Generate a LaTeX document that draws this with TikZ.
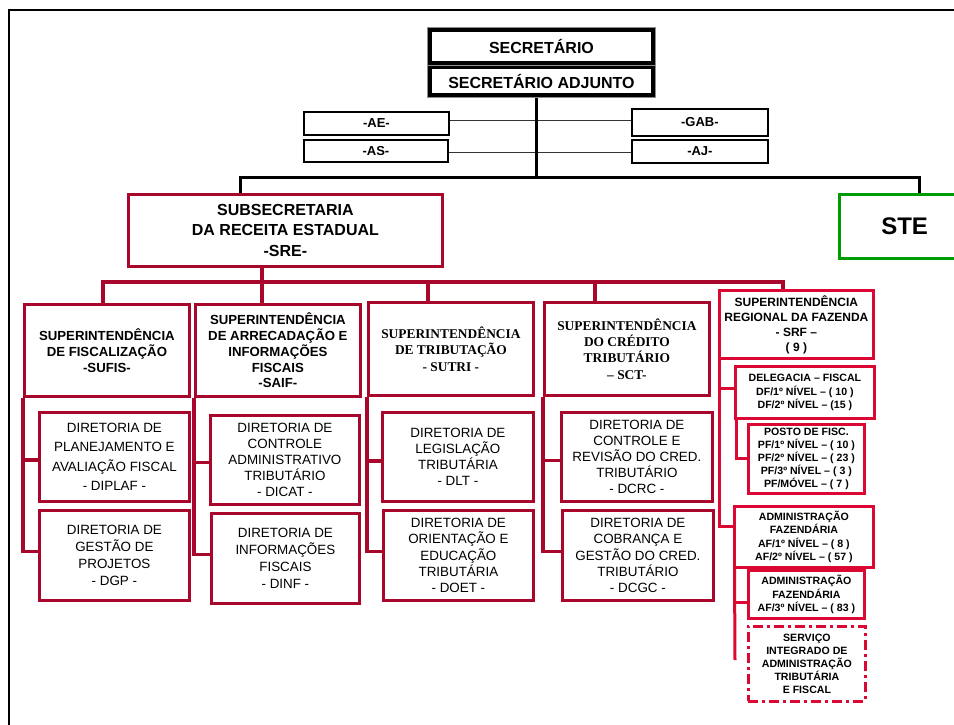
\documentclass[tikz,border=0pt]{standalone}
\usepackage{fontspec}
\setmainfont{Liberation Sans}
\newfontfamily\serifb{Liberation Serif}
\definecolor{crimson}{RGB}{168,6,42}
\definecolor{srfred}{RGB}{218,8,50}
\definecolor{stegreen}{RGB}{0,155,0}
\tikzset{
  base/.style={anchor=north west, inner sep=0pt, align=center},
  blk/.style={base, draw=black, line width=1.8pt, font=\bfseries\fontsize{13}{15}\selectfont},
  hd/.style={base, draw=crimson, line width=2.8pt, font=\bfseries\fontsize{13.2}{15.8}\selectfont},
  hdserif/.style={base, draw=crimson, line width=2.8pt, font=\serifb\bfseries\fontsize{13.4}{16.4}\selectfont},
  dirbox/.style={base, draw=crimson, line width=2.8pt, font=\fontsize{13.4}{16.2}\selectfont},
  srfbox/.style={base, draw=srfred, line width=2.8pt, font=\bfseries\fontsize{10.6}{13.2}\selectfont},
  redline/.style={draw=crimson, line width=3.2pt},
  srfline/.style={draw=srfred, line width=3pt},
  blkline/.style={draw=black, line width=3pt},
  thinline/.style={draw=black!80, line width=1pt},
}
\begin{document}
\begin{tikzpicture}[x=1pt,y=-1pt]
\useasboundingbox (0,0) rectangle (954,724);
\clip (0,0) rectangle (954,724);
\fill[white] (0,0) rectangle (954,724);
% outer frame
\draw[line width=2.4pt] (9,730) -- (9,10) -- (960,10);

% top
\node[base, draw=black!45, line width=0.9pt, minimum width=228pt, minimum height=38pt, font=\bfseries\fontsize{16}{19}\selectfont] (sec) at (427,27) {SECRETÁRIO};
\draw[line width=3.4pt] ([shift={(3,3)}]sec.north west) rectangle ([shift={(-3,-3)}]sec.south east);
\node[base, draw=black!45, line width=0.9pt, minimum width=228pt, minimum height=32pt, font=\bfseries\fontsize{16}{19}\selectfont] (adj) at (427,65) {SECRETÁRIO ADJUNTO};
\draw[line width=3.4pt] ([shift={(3,2.5)}]adj.north west) rectangle ([shift={(-3,-3)}]adj.south east);

\node[blk, minimum width=145pt, minimum height=23pt] (ae) at (303,111) {-AE-};
\node[blk, minimum width=144pt, minimum height=22pt] (as) at (303,139) {-AS-};
\node[blk, minimum width=136pt, minimum height=27pt] (gab) at (631,108) {-GAB-};
\node[blk, minimum width=136pt, minimum height=23pt] (aj) at (631,139) {-AJ-};

\draw[thinline] ([yshift=3]ae.east) -- ([yshift=3]ae.east -| gab.west);
\draw[thinline] ([yshift=-2]as.east) -- ([yshift=-2]as.east -| aj.west);

\coordinate (bL) at (240,177);
\coordinate (bC) at (536,177);
\coordinate (bR) at (919,177);
\draw[blkline] (bC |- adj.south) -- (bC);

% second level
\node[base, draw=crimson, line width=2.8pt, minimum width=314pt, minimum height=72pt, font=\bfseries\fontsize{16}{20.5}\selectfont] (sre) at (127,193) {SUBSECRETARIA\\DA RECEITA ESTADUAL\\-SRE-};
\node[base, draw=stegreen, line width=3.2pt, minimum width=140pt, minimum height=64pt, font=\bfseries\fontsize{24}{28}\selectfont] (ste) at (838,193) {\hspace*{-10pt}STE};
\draw[blkline] (bL |- sre.north) -- (bL) -- (bR) -- (bR |- ste.north);

% superintendencias
\node[hd, minimum width=165pt, minimum height=92pt] (sufis) at (23,303) {SUPERINTENDÊNCIA\\DE FISCALIZAÇÃO\\-SUFIS-};
\node[hd, minimum width=165pt, minimum height=92pt] (saif) at (194,303) {SUPERINTENDÊNCIA\\DE ARRECADAÇÃO E\\INFORMAÇÕES\\FISCAIS\\-SAIF-};
\node[hdserif, minimum width=165pt, minimum height=93pt] (sutri) at (367,301) {SUPERINTENDÊNCIA\\DE TRIBUTAÇÃO\\- SUTRI -};
\node[hdserif, minimum width=165pt, minimum height=93pt] (sct) at (543,301) {SUPERINTENDÊNCIA\\DO CRÉDITO\\TRIBUTÁRIO\\– SCT-};
\node[base, draw=srfred, line width=2.8pt, minimum width=154pt, minimum height=68pt, font=\bfseries\fontsize{12}{15}\selectfont] (srf) at (718,289) {SUPERINTENDÊNCIA\\REGIONAL DA FAZENDA\\- SRF –\\( 9 )};

\coordinate (rL) at (103,282);
\coordinate (rA) at (262,282);
\coordinate (rS) at (428,282);
\coordinate (rC) at (595,282);
\coordinate (rR) at (783,282);
\draw[redline] (rA |- sre.south) -- (rA |- saif.north);
\draw[redline] (rL |- sufis.north) -- (rL) -- (rR) -- (rR |- srf.north);
\draw[redline] (rS) -- (rS |- sutri.north);
\draw[redline] (rC) -- (rC |- sct.north);

% diretorias
\node[dirbox, minimum width=150pt, minimum height=89pt, font=\fontsize{13.4}{19.5}\selectfont] (diplaf) at (38,411) {DIRETORIA DE\\PLANEJAMENTO E\\AVALIAÇÃO FISCAL\\- DIPLAF -};
\node[dirbox, minimum width=150pt, minimum height=90pt, font=\fontsize{13.4}{17}\selectfont] (dgp) at (38,509) {DIRETORIA DE\\GESTÃO DE\\PROJETOS\\- DGP -};
\node[dirbox, minimum width=149pt, minimum height=89pt] (dicat) at (209,414) {DIRETORIA DE\\CONTROLE\\ADMINISTRATIVO\\TRIBUTÁRIO\\- DICAT -};
\node[dirbox, minimum width=148pt, minimum height=90pt, font=\fontsize{13.4}{16.8}\selectfont] (dinf) at (210,512) {DIRETORIA DE\\INFORMAÇÕES\\FISCAIS\\- DINF -};
\node[dirbox, minimum width=151pt, minimum height=89pt] (dlt) at (381,411) {DIRETORIA DE\\LEGISLAÇÃO\\TRIBUTÁRIA\\- DLT -};
\node[dirbox, minimum width=150pt, minimum height=90pt] (doet) at (382,509) {DIRETORIA DE\\ORIENTAÇÃO E\\EDUCAÇÃO\\TRIBUTÁRIA\\- DOET -};
\node[dirbox, minimum width=151pt, minimum height=89pt] (dcrc) at (560,411) {DIRETORIA DE\\CONTROLE E\\REVISÃO DO CRED.\\TRIBUTÁRIO\\- DCRC -};
\node[dirbox, minimum width=151pt, minimum height=90pt] (dcgc) at (561,509) {DIRETORIA DE\\COBRANÇA E\\GESTÃO DO CRED.\\TRIBUTÁRIO\\- DCGC -};

\draw[redline] (sufis.south west) |- ([yshift=-3]diplaf.west);
\draw[redline] (sufis.south west) |- ([yshift=4]dgp.west);
\draw[redline] (saif.south west) |- ([yshift=-2.5]dicat.west);
\draw[redline] (saif.south west) |- ([yshift=4]dinf.west);
\draw[redline] (sutri.south west) |- ([yshift=-4]dlt.west);
\draw[redline] (sutri.south west) |- ([yshift=4]doet.west);
\draw[redline] (sct.south west) |- ([yshift=-3.5]dcrc.west);
\draw[redline] (sct.south west) |- ([yshift=4]dcgc.west);

% SRF column
\node[srfbox, minimum width=139pt, minimum height=52pt] (deleg) at (734,365) {DELEGACIA – FISCAL\\DF/1º NÍVEL – ( 10 )\\DF/2º NÍVEL – (15 )};
\node[srfbox, minimum width=116pt, minimum height=69pt] (posto) at (747,423) {POSTO DE FISC.\\PF/1º NÍVEL – ( 10 )\\PF/2º NÍVEL – ( 23 )\\PF/3º NÍVEL – ( 3 )\\PF/MÓVEL – ( 7 )};
\node[srfbox, minimum width=139pt, minimum height=61pt] (adm1) at (733,505) {ADMINISTRAÇÃO\\FAZENDÁRIA\\AF/1º NÍVEL – ( 8 )\\AF/2º NÍVEL – ( 57 )};
\node[srfbox, minimum width=116pt, minimum height=48pt] (adm2) at (747,569) {ADMINISTRAÇÃO\\FAZENDÁRIA\\AF/3º NÍVEL – ( 83 )};
\node[srfbox, dash pattern=on 10pt off 4pt on 3pt off 4pt, minimum width=117pt, minimum height=75pt] (serv) at (747,625) {SERVIÇO\\INTEGRADO DE\\ADMINISTRAÇÃO\\TRIBUTÁRIA\\E FISCAL};

\coordinate (svEnd) at (735,660);
\draw[srfline] ([xshift=1.5]srf.south west) |- ([yshift=4]deleg.west);
\draw[srfline] ([xshift=1.5]srf.south west) |- ([yshift=10]adm1.west);
\draw[srfline] ([xshift=2]deleg.south west) |- (posto.west);
\draw[srfline] ([xshift=1.5]adm1.south west) |- ([yshift=-8]adm2.west);
\draw[srfline] ([xshift=1.5]adm1.south west) -- (svEnd);
\end{tikzpicture}
\end{document}
